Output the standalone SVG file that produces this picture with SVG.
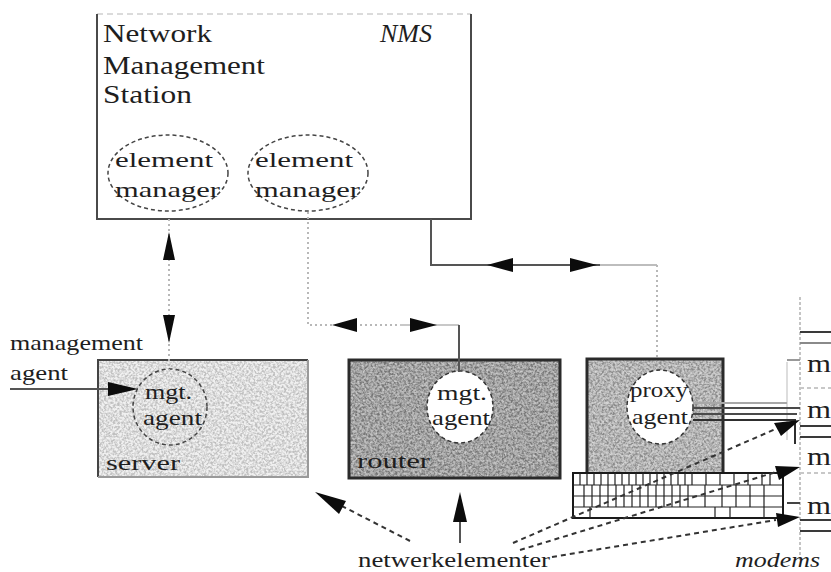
<svg xmlns="http://www.w3.org/2000/svg" width="831" height="572" viewBox="0 0 831 572">
<style>
.solid{stroke:#4a4a4a;stroke-width:2;fill:none}
.faint{stroke:#b8b8b8;stroke-width:2;fill:none;stroke-dasharray:2 3}
.dash{stroke:#333;stroke-width:2;fill:none;stroke-dasharray:5 4}
.ell{stroke:#444;stroke-width:1.5;fill:none;stroke-dasharray:4 3}
.ah{fill:#0c0c0c}
.kb{stroke:#222;stroke-width:1.2;fill:none}
</style>
<defs>
<filter id="noise" x="0" y="0" width="1" height="1" filterUnits="objectBoundingBox">
<feTurbulence type="fractalNoise" baseFrequency="0.45" numOctaves="2" seed="7"/>
<feColorMatrix type="matrix" values="0 0 0 0 0  0 0 0 0 0  0 0 0 0 0  3 0 0 0 -1.1"/>
</filter>
<filter id="noise2" x="0" y="0" width="1" height="1" filterUnits="objectBoundingBox">
<feTurbulence type="fractalNoise" baseFrequency="0.4" numOctaves="2" seed="11"/>
<feColorMatrix type="matrix" values="0 0 0 0 1  0 0 0 0 1  0 0 0 0 1  -3 0 0 0 1.6"/>
</filter>
</defs>
<rect width="831" height="572" fill="#ffffff"/>

<g id="nms">
<path d="M97 14 L471 14" stroke="#cfcfcf" stroke-width="1.5" stroke-dasharray="6 4" fill="none"/>
<path d="M97 14 L97 219 L471 219 L471 14" class="solid"/>
<text font-family="Liberation Serif" font-size="26" fill="#1e1e1e" x="103" y="42" textLength="109" lengthAdjust="spacingAndGlyphs">Network</text>
<text font-family="Liberation Serif" font-size="26" fill="#1e1e1e" x="103" y="74" textLength="162" lengthAdjust="spacingAndGlyphs">Management</text>
<text font-family="Liberation Serif" font-size="26" fill="#1e1e1e" x="103" y="103" textLength="89" lengthAdjust="spacingAndGlyphs">Station</text>
<text font-family="Liberation Serif" font-size="26" font-style="italic" fill="#1e1e1e" x="380" y="42" textLength="52" lengthAdjust="spacingAndGlyphs">NMS</text>
</g>

<g id="em1">
<ellipse cx="168" cy="173" rx="60" ry="38" class="ell"/>
<text font-family="Liberation Serif" font-size="22" fill="#1e1e1e" x="115" y="167" textLength="98" lengthAdjust="spacingAndGlyphs">element</text>
<text font-family="Liberation Serif" font-size="22" fill="#1e1e1e" x="115" y="197" textLength="105" lengthAdjust="spacingAndGlyphs">manager</text>
</g>

<g id="em2">
<ellipse cx="308" cy="173" rx="60" ry="38" class="ell"/>
<text font-family="Liberation Serif" font-size="22" fill="#1e1e1e" x="255" y="167" textLength="98" lengthAdjust="spacingAndGlyphs">element</text>
<text font-family="Liberation Serif" font-size="22" fill="#1e1e1e" x="255" y="197" textLength="105" lengthAdjust="spacingAndGlyphs">manager</text>
</g>

<g id="server">
<rect x="98" y="360" width="210" height="117" fill="#f0f0f0"/>
<rect x="98" y="360" width="210" height="117" fill="#000" filter="url(#noise)" opacity="0.2"/>
<path d="M98 477 L98 360 L308 360" stroke="#444" stroke-width="2" fill="none"/>
<path d="M308 360 L308 477 L98 477" stroke="#9a9a9a" stroke-width="2" fill="none"/>
<ellipse cx="170" cy="407" rx="37" ry="38" class="ell" fill="#f7f7f7"/>
<text font-family="Liberation Serif" font-size="21" fill="#1e1e1e" x="145" y="399" textLength="47" lengthAdjust="spacingAndGlyphs">mgt.</text>
<text font-family="Liberation Serif" font-size="21" fill="#1e1e1e" x="143" y="425" textLength="59" lengthAdjust="spacingAndGlyphs">agent</text>
<text font-family="Liberation Serif" font-size="22" fill="#1e1e1e" x="106" y="470" textLength="74" lengthAdjust="spacingAndGlyphs">server</text>
</g>

<g id="router">
<rect x="349" y="360" width="211" height="118" fill="#b4b4b4"/>
<rect x="349" y="360" width="211" height="118" fill="#000" filter="url(#noise)" opacity="0.35"/>
<rect x="349" y="360" width="211" height="118" fill="#fff" filter="url(#noise2)" opacity="0.35"/>
<rect x="349" y="360" width="211" height="118" stroke="#2a2a2a" stroke-width="3" fill="none"/>
<ellipse cx="460" cy="407" rx="33" ry="36" fill="#ffffff" stroke="#333" stroke-width="1.5" stroke-dasharray="4 3"/>
<text font-family="Liberation Serif" font-size="21" fill="#1e1e1e" x="437" y="400" textLength="50" lengthAdjust="spacingAndGlyphs">mgt.</text>
<text font-family="Liberation Serif" font-size="21" fill="#1e1e1e" x="432" y="425" textLength="58" lengthAdjust="spacingAndGlyphs">agent</text>
<text font-family="Liberation Serif" font-size="22" fill="#1e1e1e" x="357" y="468" textLength="73" lengthAdjust="spacingAndGlyphs">router</text>
</g>

<g id="proxy">
<rect x="587" y="359" width="136" height="118" fill="#c6c6c6"/>
<rect x="587" y="359" width="136" height="118" fill="#000" filter="url(#noise)" opacity="0.3"/>
<rect x="587" y="359" width="136" height="118" fill="#fff" filter="url(#noise2)" opacity="0.35"/>
<rect x="587" y="359" width="136" height="118" stroke="#2a2a2a" stroke-width="3" fill="none"/>
<ellipse cx="660" cy="407" rx="33" ry="37" fill="#ffffff" stroke="#333" stroke-width="1.5" stroke-dasharray="4 3"/>
<text font-family="Liberation Serif" font-size="21" fill="#1e1e1e" x="630" y="397" textLength="58" lengthAdjust="spacingAndGlyphs">proxy</text>
<text font-family="Liberation Serif" font-size="21" fill="#1e1e1e" x="632" y="424" textLength="56" lengthAdjust="spacingAndGlyphs">agent</text>
</g>

<g id="keyboard">
<rect x="573" y="473" width="210" height="45" fill="#ffffff" stroke="#1a1a1a" stroke-width="2"/>
<path class="kb" d="M573 485 H783 M573 496 H783 M573 507 H783"/>
<path class="kb" d="M580 473 V485 M587 473 V485 M594 473 V485 M601 473 V485 M608 473 V485 M615 473 V485 M622 473 V485 M629 473 V485 M636 473 V485 M643 473 V485 M650 473 V485 M657 473 V485 M664 473 V485 M671 473 V485 M678 473 V485 M685 473 V485 M692 473 V485 M706 473 V485 M720 473 V485 M734 473 V485 M748 473 V485 M762 473 V485 M770 473 V485"/>
<path class="kb" d="M584 485 V507 M592 485 V507 M600 485 V507 M608 485 V507 M616 485 V507 M624 485 V507 M632 485 V507 M640 485 V507 M648 485 V507 M656 485 V507 M664 485 V507 M672 485 V507 M680 485 V507 M688 485 V507 M705 485 V507 M722 485 V507 M736 485 V507 M750 485 V507 M764 485 V507"/>
<path class="kb" d="M590 507 V518 M715 507 V518 M730 507 V518 M764 507 V518"/>
</g>

<g id="modems">
<path d="M800 297 V562" stroke="#c4c4c4" stroke-width="2" fill="none" stroke-dasharray="3 2"/>
<path d="M800 332 H831 M800 426 H831 M800 437 H831 M800 520 H831 M800 531 H831" stroke="#3a3a3a" stroke-width="2" fill="none"/>
<path d="M800 343 H831" stroke="#8a8a8a" stroke-width="2" fill="none"/>
<path d="M800 388 H831 M800 473 H831" stroke="#c8c8c8" stroke-width="2" fill="none" stroke-dasharray="4 3"/>
<path d="M787 360 H800" stroke="#999" stroke-width="2" fill="none"/>
<path d="M787 503 H800" stroke="#444" stroke-width="2" fill="none"/>
<path d="M787 362 V440" stroke="#dddddd" stroke-width="2" fill="none"/>
<text font-family="Liberation Serif" font-size="26" fill="#1e1e1e" x="807" y="372" textLength="24" lengthAdjust="spacingAndGlyphs">m</text>
<text font-family="Liberation Serif" font-size="26" fill="#1e1e1e" x="807" y="418" textLength="24" lengthAdjust="spacingAndGlyphs">m</text>
<text font-family="Liberation Serif" font-size="26" fill="#1e1e1e" x="807" y="465" textLength="24" lengthAdjust="spacingAndGlyphs">m</text>
<text font-family="Liberation Serif" font-size="26" fill="#1e1e1e" x="807" y="514" textLength="24" lengthAdjust="spacingAndGlyphs">m</text>
<text font-family="Liberation Serif" font-size="22" font-style="italic" fill="#1e1e1e" x="735" y="567" textLength="85" lengthAdjust="spacingAndGlyphs">modems</text>
</g>

<g id="labels">
<text font-family="Liberation Serif" font-size="22" fill="#1e1e1e" x="10" y="350" textLength="133" lengthAdjust="spacingAndGlyphs">management</text>
<text font-family="Liberation Serif" font-size="22" fill="#1e1e1e" x="10" y="380" textLength="58" lengthAdjust="spacingAndGlyphs">agent</text>
<text font-family="Liberation Serif" font-size="22" fill="#1e1e1e" x="358" y="567" textLength="192" lengthAdjust="spacingAndGlyphs">netwerkelementer</text>
</g>

<g id="connectors">
<path d="M169 219 V370" class="faint"/>
<polygon class="ah" points="169,232 163,260 175,260"/>
<polygon class="ah" points="169,343 163,315 175,315"/>
<path d="M10 389 H112" stroke="#555" stroke-width="2" fill="none"/>
<polygon class="ah" points="138,389 108,382 108,396"/>
<path d="M308 212 V325 H400" class="faint"/>
<path d="M400 325 H459" stroke="#c8c8c8" stroke-width="2" fill="none"/>
<path d="M459 325 V372" stroke="#555" stroke-width="2" fill="none"/>
<polygon class="ah" points="332,325 357,318 357,332"/>
<polygon class="ah" points="437,325 410,318 410,332"/>
<path d="M431 219 V265 H600" stroke="#555" stroke-width="2" fill="none"/>
<path d="M600 265 H657" stroke="#bdbdbd" stroke-width="2" fill="none"/>
<path d="M657 265 V359" class="faint"/>
<polygon class="ah" points="487,265 513,258 513,272"/>
<polygon class="ah" points="597,265 570,258 570,272"/>
<path d="M693 403 H787" stroke="#a8a8a8" stroke-width="2" fill="none"/>
<path d="M693 408 H800 M693 414 H797" stroke="#4a4a4a" stroke-width="2" fill="none"/>
<path d="M693 420 H795 V444" stroke="#2e2e2e" stroke-width="2" fill="none"/>
<path d="M410 541 L338 504" class="dash"/>
<polygon class="ah" points="315,492 346,501 339,514"/>
<path d="M460 543 V520" stroke="#555" stroke-width="2" fill="none"/>
<polygon class="ah" points="460,492 453,522 467,522"/>
<path d="M513 543 L778 428" class="dash"/>
<polygon class="ah" points="800,420 781,436 774,423"/>
<path d="M520 550 L776 472" class="dash"/>
<polygon class="ah" points="800,467 779,480 775,466"/>
<path d="M552 557 L776 520" class="dash"/>
<polygon class="ah" points="800,517 778,527 776,513"/>
</g>
</svg>
